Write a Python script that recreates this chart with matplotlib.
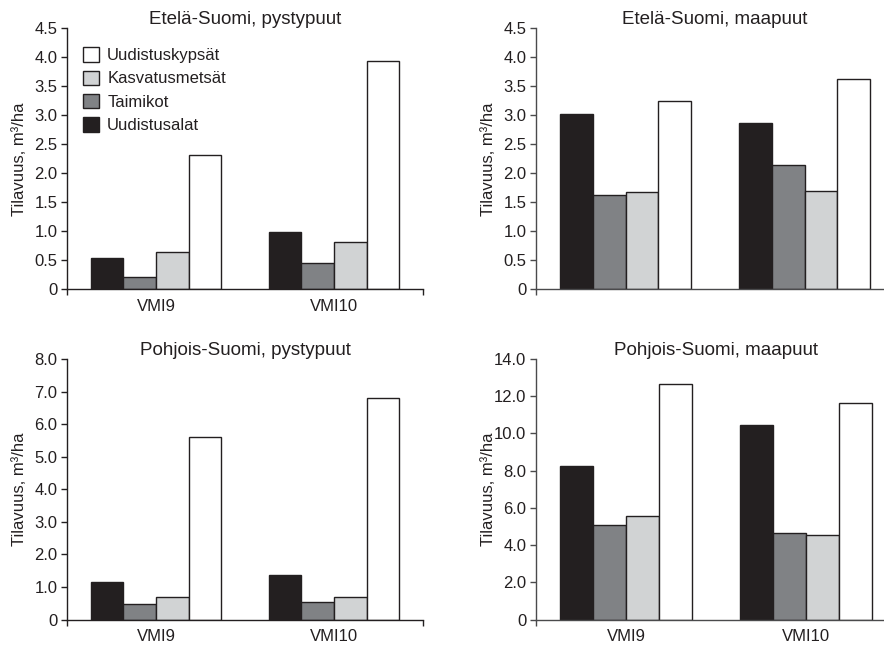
import matplotlib
matplotlib.use("Agg")
import matplotlib.pyplot as plt
from matplotlib.patches import Patch
import numpy as np

plt.rcParams['font.family'] = ['Liberation Sans', 'DejaVu Sans']

categories = ['VMI9', 'VMI10']
series = ['Uudistusalat', 'Taimikot', 'Kasvatusmetsät', 'Uudistuskypsät']
colors = ['#231f20', '#808285', '#d1d3d4', '#ffffff']

# rows follow `series`, columns follow `categories`
etela_pysty = [[0.54, 0.98], [0.21, 0.45], [0.65, 0.81], [2.31, 3.93]]
etela_maa = [[3.03, 2.86], [1.63, 2.14], [1.67, 1.69], [3.24, 3.63]]
pohjois_pysty = [[1.16, 1.37], [0.49, 0.54], [0.70, 0.70], [5.59, 6.81]]
pohjois_maa = [[8.26, 10.44], [5.08, 4.63], [5.55, 4.54], [12.64, 11.64]]

titles = ['Etelä-Suomi, pystypuut', 'Etelä-Suomi, maapuut',
          'Pohjois-Suomi, pystypuut', 'Pohjois-Suomi, maapuut']
ylabel = 'Tilavuus, m³/ha'
yticks_list = [np.arange(0, 4.51, 0.5), np.arange(0, 4.51, 0.5),
               np.arange(0, 8.01, 1.0), np.arange(0, 14.01, 2.0)]
show_xlabels = [True, False, True, True]

W, H = 884, 645
fig = plt.figure(figsize=(W / 100, H / 100), dpi=100)

ink = '#231f20'
positions = [
    (67, 423, 28.3, 289.3),
    (536, 894, 28.3, 289.3),
    (67, 423, 359, 619.5),
    (536, 896, 359, 619.5),
]
datasets = [etela_pysty, etela_maa, pohjois_pysty, pohjois_maa]

bw = 0.183
for i, (data, title, yt, pos) in enumerate(zip(datasets, titles, yticks_list, positions)):
    l, r, t, b = pos
    ax = fig.add_axes([l / W, 1 - b / H, (r - l) / W, (b - t) / H])
    x = np.arange(len(categories))
    for k, (name, vals) in enumerate(zip(series, data)):
        ax.bar(x + (k - 1.5) * bw, vals, width=bw, color=colors[k],
               edgecolor=ink, linewidth=1.0, label=name, zorder=2)
    ax.set_xlim(-0.5, 1.5)
    ax.set_ylim(0, yt[-1])
    ax.set_yticks(yt)
    ax.set_yticklabels(['0' if v == 0 else f'{v:.1f}' for v in yt])
    spine_col = ink if i % 2 == 0 else '#4a4a4c'
    for s in ['top', 'right']:
        ax.spines[s].set_visible(False)
    for s in ['left', 'bottom']:
        ax.spines[s].set_color(spine_col)
        ax.spines[s].set_linewidth(1.0)
    ax.set_xticks([-0.5, 1.5])
    ax.set_xticklabels(['', ''])
    ax.tick_params(axis='x', which='major', direction='out', length=4,
                   width=1.0, color=spine_col)
    if show_xlabels[i]:
        ax.set_xticks(x, minor=True)
        ax.set_xticklabels(categories, minor=True)
        ax.tick_params(axis='x', which='minor', length=0, pad=7,
                       labelsize=12, labelcolor=ink)
    ax.tick_params(axis='y', direction='out', length=4, width=1.0,
                   color=spine_col, labelsize=12, labelcolor=ink, pad=3)
    ax.set_title(title, fontsize=13.5, color=ink, pad=3)
    ax.set_ylabel(ylabel, fontsize=12, color=ink)
    ax.yaxis.set_label_coords(-0.112, 0.5)
    ax.patch.set_alpha(0)

    if i == 0:
        handles = [Patch(facecolor=colors[k], edgecolor=ink, linewidth=1.0)
                   for k in range(4)][::-1]
        ax.legend(handles, series[::-1], loc='upper left',
                  bbox_to_anchor=(0.031, 0.947), frameon=False, fontsize=12,
                  handlelength=0.95, handleheight=0.95, handletextpad=0.5,
                  labelspacing=0.45, borderaxespad=0.0, borderpad=0.3,
                  labelcolor=ink)

fig.savefig('out.png', dpi=100)
